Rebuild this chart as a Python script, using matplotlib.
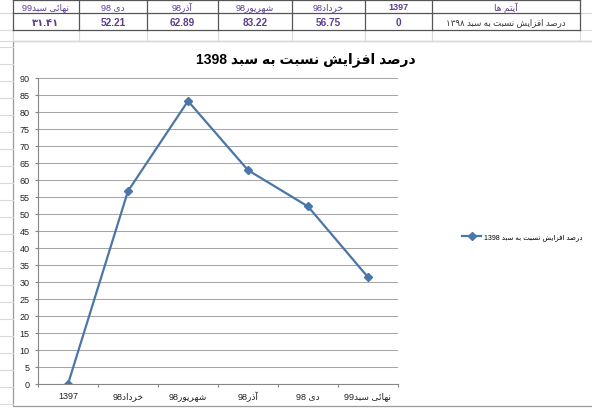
import re
import matplotlib
matplotlib.use('Agg')
import matplotlib.pyplot as plt
import numpy as np
from matplotlib.patches import Rectangle

plt.rcParams['font.family'] = ['Liberation Sans', 'DejaVu Sans']

# Chart data
categories = ['1397', 'خرداد98', 'شهریور98', 'آذر98', 'دی 98', 'نهائی سبد99']
values = [0, 56.75, 83.22, 62.89, 52.21, 31.41]
series_name = 'درصد افزایش نسبت به سبد 1398'
title = 'درصد افزایش نسبت به سبد 1398'
yticks = list(range(0, 91, 5))

# Sheet table above the chart (right-to-left sheet)
table_head = 'آیتم ها'
table_row_name = 'درصد افزایش نسبت به سبد ۱۳۹۸'
table_values = ['0', '56.75', '83.22', '62.89', '52.21', '۳۱.۴۱']

# Arabic letter forms: isolated, final, initial, medial
FORMS = {
    'ا': ('\uFE8D', '\uFE8E', None, None),
    'آ': ('\uFE81', '\uFE82', None, None),
    'ب': ('\uFE8F', '\uFE90', '\uFE91', '\uFE92'),
    'پ': ('\uFB56', '\uFB57', '\uFB58', '\uFB59'),
    'ت': ('\uFE95', '\uFE96', '\uFE97', '\uFE98'),
    'خ': ('\uFEA5', '\uFEA6', '\uFEA7', '\uFEA8'),
    'د': ('\uFEA9', '\uFEAA', None, None),
    'ذ': ('\uFEAB', '\uFEAC', None, None),
    'ر': ('\uFEAD', '\uFEAE', None, None),
    'ز': ('\uFEAF', '\uFEB0', None, None),
    'س': ('\uFEB1', '\uFEB2', '\uFEB3', '\uFEB4'),
    'ش': ('\uFEB5', '\uFEB6', '\uFEB7', '\uFEB8'),
    'ص': ('\uFEB9', '\uFEBA', '\uFEBB', '\uFEBC'),
    'ف': ('\uFED1', '\uFED2', '\uFED3', '\uFED4'),
    'م': ('\uFEE1', '\uFEE2', '\uFEE3', '\uFEE4'),
    'ن': ('\uFEE5', '\uFEE6', '\uFEE7', '\uFEE8'),
    'ه': ('\uFEE9', '\uFEEA', '\uFEEB', '\uFEEC'),
    'و': ('\uFEED', '\uFEEE', None, None),
    'ی': ('\uFBFC', '\uFBFD', '\uFBFE', '\uFBFF'),
    'ئ': ('\uFE89', '\uFE8A', '\uFE8B', '\uFE8C'),
}
DIGITS = '0-9\u06F0-\u06F9'


def shape(text):
    # join letters and put the string in visual (left to right) order
    out = []
    for i, ch in enumerate(text):
        f = FORMS.get(ch)
        if f is None:
            out.append(ch)
            continue
        prev = FORMS.get(text[i - 1]) if i > 0 else None
        nxt = FORMS.get(text[i + 1]) if i + 1 < len(text) else None
        jp = prev is not None and prev[2] is not None
        jn = nxt is not None and f[2] is not None
        out.append(f[3] if jp and jn else f[1] if jp else f[2] if jn else f[0])
    s = ''.join(out)
    runs = re.findall(r'[%s][%s.]*|[^%s]+' % (DIGITS, DIGITS, DIGITS), s)
    return ''.join(r if re.match('[%s]' % DIGITS, r) else r[::-1]
                   for r in reversed(runs))


W, H = 592, 410
fig = plt.figure(figsize=(W / 100, H / 100), dpi=100, facecolor='white')

# Background in pixel coordinates: sheet grid, table, chart frame
bg = fig.add_axes([0, 0, 1, 1])
bg.set_xlim(0, W)
bg.set_ylim(H, 0)
bg.axis('off')

grid_c = '#D9D9D9'
cols = [13, 79, 147, 218, 292, 365, 432, 580]
for y in range(14, H, 17):
    bg.plot([0, 13], [y, y], color=grid_c, lw=0.8)
bg.plot([580, W], [14, 14], color=grid_c, lw=0.8)
bg.plot([580, W], [31, 31], color=grid_c, lw=0.8)
for x in cols:
    bg.plot([x, x], [31, 42], color=grid_c, lw=0.8)
bg.plot([0, W], [42, 42], color=grid_c, lw=0.8)

line_c = '#555555'
for y in [0.5, 14, 31]:
    bg.plot([13, 580], [y, y], color=line_c, lw=0.9)
for x in cols:
    bg.plot([x, x], [0, 31], color=line_c, lw=0.9)

txt_c = '#5B3F8E'
head = categories[::-1] + [table_head]
row = table_values[::-1] + [table_row_name]
for i in range(7):
    cx = (cols[i] + cols[i + 1]) / 2
    bg.text(cx, 7.5, shape(head[i]), ha='center', va='center',
            fontsize=6.5, color=txt_c,
            fontweight='bold' if head[i].isdigit() else 'normal')
    bg.text(cx, 23, shape(row[i]), ha='center', va='center',
            fontsize=6.2 if i == 6 else 7.2,
            color='#333333' if i == 6 else txt_c,
            fontweight='normal' if i == 6 else 'bold')

bg.add_patch(Rectangle((13, 42), W, 365, facecolor='white',
                       edgecolor='#9A9A9A', lw=0.9))
bg.text(306, 60, shape(title), ha='center', va='center',
        fontsize=10, fontweight='bold', color='black')

# Plot area
ax = fig.add_axes([38 / W, (H - 385) / H, 360 / W, 306 / H])
x = np.arange(len(categories))
ax.plot(x, values, color='#4A76A8', lw=1.6, marker='D', markersize=4.5,
        label=shape(series_name))
ax.set_xlim(-0.5, len(categories) - 0.5)
ax.set_ylim(0, 90)
ax.set_yticks(yticks)
ax.set_xticks(x)
ax.set_xticklabels([shape(c) for c in categories])
ax.set_xticks(np.arange(-0.5, len(categories), 1), minor=True)
ax.grid(axis='y', color='#A6A6A6', lw=0.75)
ax.set_axisbelow(True)
for s in ['top', 'right']:
    ax.spines[s].set_visible(False)
for s in ['left', 'bottom']:
    ax.spines[s].set_color('#868686')
    ax.spines[s].set_linewidth(0.8)
ax.tick_params(axis='y', length=2.5, width=0.8, color='#868686', pad=3.5,
               labelsize=6.5, labelcolor='#222222')
ax.tick_params(axis='x', which='major', length=0, pad=5,
               labelsize=6.5, labelcolor='#222222')
ax.tick_params(axis='x', which='minor', length=2.5, width=0.8, color='#868686')

fig.legend(loc='center left', bbox_to_anchor=(462 / W, 1 - 238 / H),
           frameon=False, fontsize=5, handlelength=2.8, handletextpad=0.3,
           borderpad=0, borderaxespad=0)

fig.savefig('out.png', dpi=100, facecolor='white')
